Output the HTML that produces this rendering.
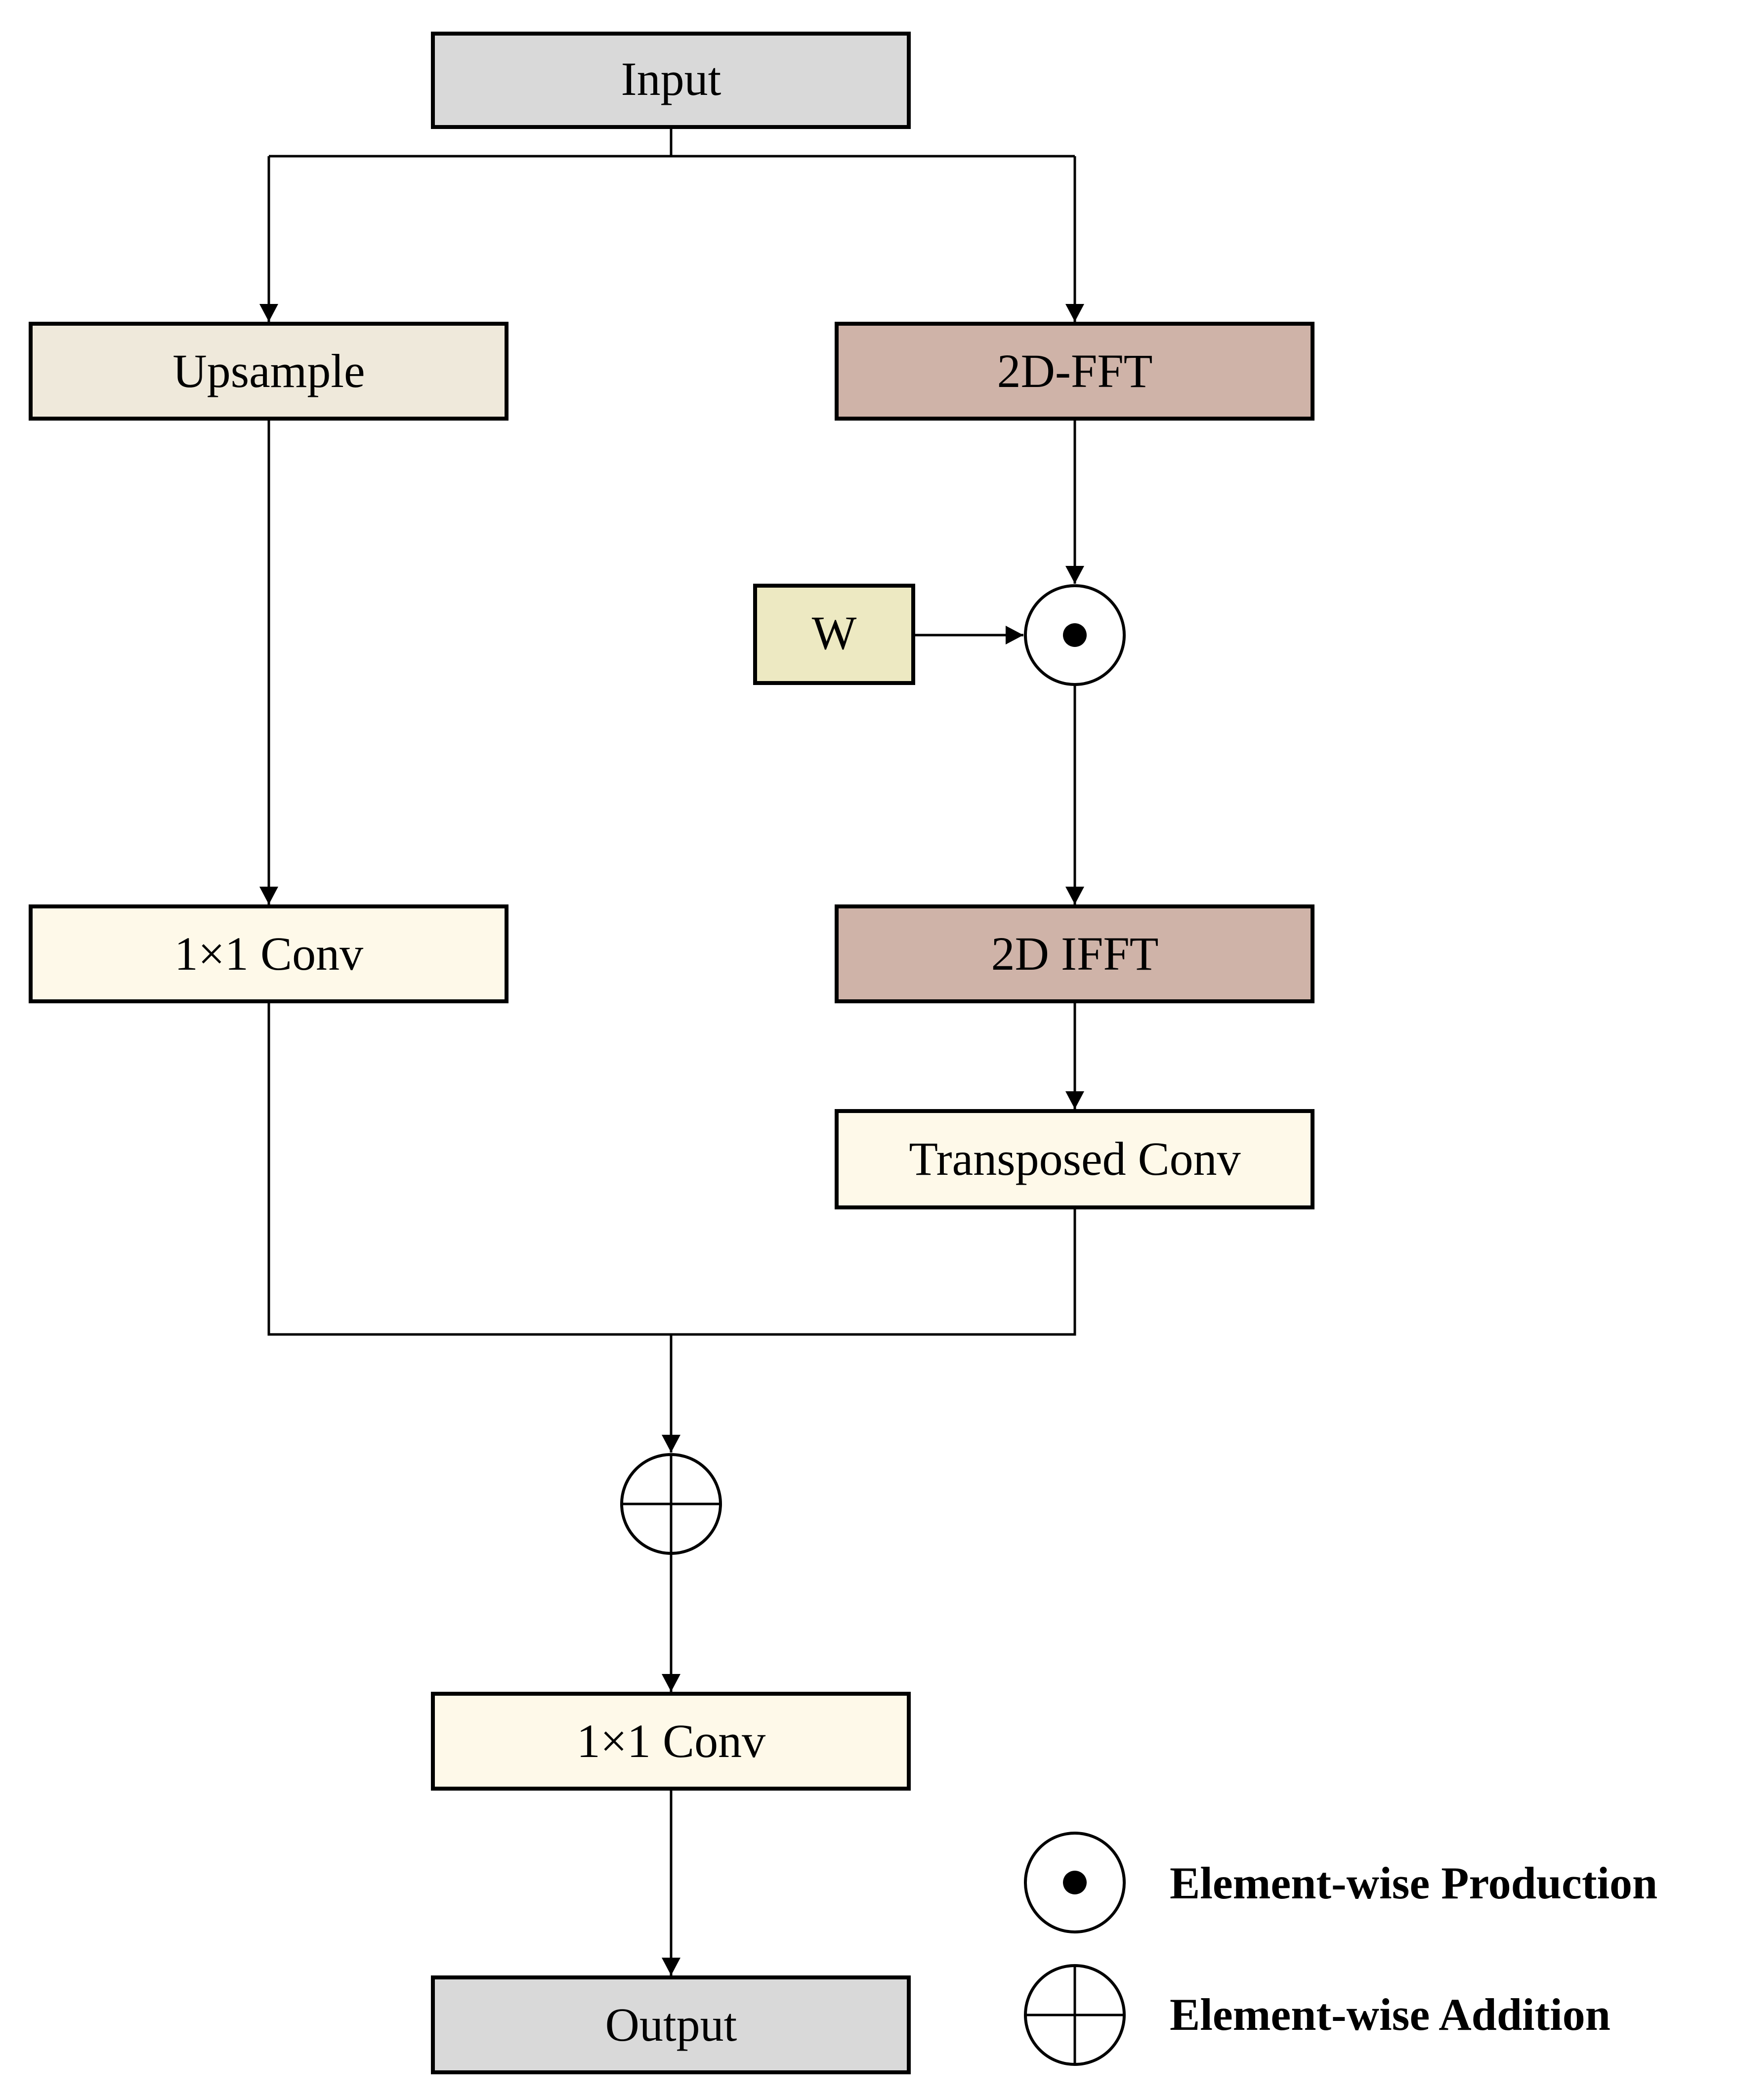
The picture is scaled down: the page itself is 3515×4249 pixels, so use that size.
<!DOCTYPE html>
<html><head><meta charset="utf-8"><style>html,body{margin:0;padding:0;background:#fff}</style></head>
<body>
<svg width="3515" height="4244" viewBox="0 0 3515 4244" xmlns="http://www.w3.org/2000/svg" font-family="Liberation Serif, serif">
<defs><marker id="a" markerWidth="10" markerHeight="10" refX="9" refY="5" orient="auto" markerUnits="userSpaceOnUse" viewBox="0 0 10 10"><path d="M0,0 L10,5 L0,10 z" fill="#000"/></marker>
<marker id="ah" markerWidth="36" markerHeight="38" refX="36" refY="19" orient="auto" markerUnits="userSpaceOnUse"><path d="M0,0 L36,19 L0,38 z" fill="#000"/></marker></defs>
<g stroke="#000" stroke-width="5" fill="none">
<path d="M1358 257 V316 M544 316 H2175"/>
<path d="M544 316 V651" marker-end="url(#ah)"/>
<path d="M2175 316 V651" marker-end="url(#ah)"/>
<path d="M2175 847 V1181" marker-end="url(#ah)"/>
<path d="M1848 1285 H2071" marker-end="url(#ah)"/>
<path d="M544 847 V1830" marker-end="url(#ah)"/>
<path d="M2175 1385 V1830" marker-end="url(#ah)"/>
<path d="M2175 2026 V2244" marker-end="url(#ah)"/>
<path d="M544 2026 V2700 H2175 V2443"/>
<path d="M1358 2700 V2939" marker-end="url(#ah)"/>
<path d="M1358 3143 V3423" marker-end="url(#ah)"/>
<path d="M1358 3619 V3997" marker-end="url(#ah)"/>
</g>
<g stroke="#000" stroke-width="8">
<rect x="876" y="68" width="963" height="189" fill="#d9d9d9"/>
<rect x="62" y="655" width="963" height="192" fill="#efe9db"/>
<rect x="1693" y="655" width="963" height="192" fill="#cfb3a8"/>
<rect x="1528" y="1185" width="320" height="197" fill="#ede9c2"/>
<rect x="62" y="1834" width="963" height="192" fill="#fef9e9"/>
<rect x="1693" y="1834" width="963" height="192" fill="#cfb3a8"/>
<rect x="1693" y="2248" width="963" height="195" fill="#fef9e9"/>
<rect x="876" y="3427" width="963" height="192" fill="#fef9e9"/>
<rect x="876" y="4001" width="963" height="192" fill="#d9d9d9"/>
</g>
<g stroke="#000" stroke-width="6" fill="#fff">
<circle cx="2175" cy="1285" r="100"/>
<circle cx="1358" cy="3043" r="100"/>
<circle cx="2175" cy="3809" r="100"/>
<circle cx="2175" cy="4077" r="100"/>
</g>
<g fill="#000"><circle cx="2175" cy="1285" r="24"/><circle cx="2175" cy="3809" r="24"/></g>
<g stroke="#000" stroke-width="5"><path d="M1258 3043 H1458 M1358 2943 V3143 M2075 4077 H2275 M2175 3977 V4177"/></g>
<g font-size="96" text-anchor="middle" fill="#000">
<text x="1358" y="192">Input</text>
<text x="544" y="783">Upsample</text>
<text x="2175" y="783">2D-FFT</text>
<text x="1688" y="1313">W</text>
<text x="544" y="1962">1×1 Conv</text>
<text x="2175" y="1962">2D IFFT</text>
<text x="2175" y="2377">Transposed Conv</text>
<text x="1358" y="3555">1×1 Conv</text>
<text x="1358" y="4129">Output</text>
</g>
<g font-size="92" font-weight="bold" fill="#000">
<text x="2367" y="3841">Element-wise Production</text>
<text x="2367" y="4107">Element-wise Addition</text>
</g>
</svg>
</body></html>
